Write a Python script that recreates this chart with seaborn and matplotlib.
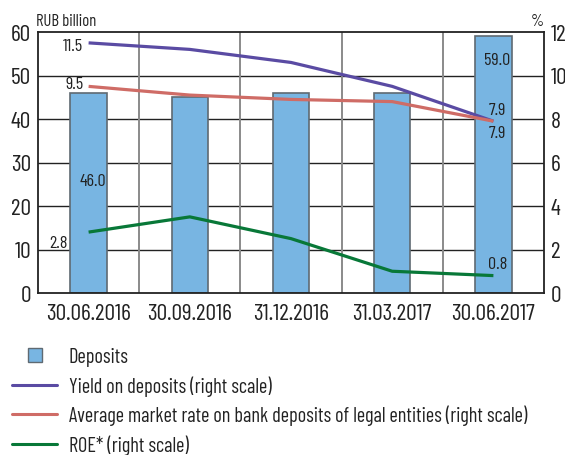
import matplotlib
matplotlib.use("Agg")
import matplotlib.pyplot as plt
from matplotlib import font_manager
from matplotlib.lines import Line2D
import seaborn as sns
import pandas as pd
import numpy as np

dates = ["30.06.2016", "30.09.2016", "31.12.2016", "31.03.2017", "30.06.2017"]
deposits = [46.0, 45.0, 46.0, 46.0, 59.0]
yield_on_deposits = [11.5, 11.2, 10.6, 9.5, 7.9]
market_rate = [9.5, 9.1, 8.9, 8.8, 7.9]
roe = [2.8, 3.5, 2.5, 1.0, 0.8]

left_ticks = [0, 10, 20, 30, 40, 50, 60]
right_ticks = [0, 2, 4, 6, 8, 10, 12]

sns.set_theme(style="white")
names = {f.name for f in font_manager.fontManager.ttflist}
family = next((n for n in ["Barlow Condensed", "Archivo Narrow", "Asap Condensed",
                           "Liberation Sans Narrow"] if n in names), "DejaVu Sans")
plt.rcParams["font.family"] = [family, "DejaVu Sans"]

BAR = "#78b5e2"
BAR_EDGE = "#5f6a72"
PURPLE = "#5a4ba3"
RED = "#cf6c66"
GREEN = "#087838"
INK = "#222222"
PT = 0.72  # points per pixel at 100 dpi

df = pd.DataFrame({"date": dates, "deposits": deposits})

fig = plt.figure(figsize=(5.65, 4.56), dpi=100)
ax = fig.add_axes([38 / 565, 1 - 294 / 456, 506 / 565, 261 / 456])

sns.barplot(data=df, x="date", y="deposits", ax=ax, color=BAR, width=0.36,
            edgecolor=BAR_EDGE, linewidth=1.2, saturation=1, zorder=3)
ax.set_xlim(-0.5, 4.5)
ax.set_ylim(0, 60)
ax.set_yticks(left_ticks)
ax.set_xlabel("")
ax.set_ylabel("")
ax.tick_params(axis="both", labelsize=17, colors=INK, length=0)
ax.tick_params(axis="y", pad=5)
ax.tick_params(axis="x", pad=7)

# horizontal grid behind bars, vertical grid at category boundaries
for y in left_ticks[1:-1]:
    ax.axhline(y, color=INK, lw=1.0, zorder=1)
for xb in [0.5, 1.5, 2.5, 3.5]:
    ax.axvline(xb, color="#8a8a8a", lw=1.4, zorder=1)
for s in ax.spines.values():
    s.set_color(INK)
    s.set_linewidth(1.3)
    s.set_zorder(5)

ax2 = ax.twinx()
ax2.set_ylim(0, 12)
ax2.set_yticks(right_ticks)
ax2.tick_params(axis="y", labelsize=17, colors=INK, length=0, pad=5)
for s in ax2.spines.values():
    s.set_visible(False)
x = np.arange(len(dates))
for series, col in [(yield_on_deposits, PURPLE), (market_rate, RED), (roe, GREEN)]:
    sns.lineplot(x=x, y=series, ax=ax2, color=col, lw=2.3, zorder=4,
                 solid_capstyle="butt")
ax2.set_ylabel("")
ax2.set_xlim(-0.5, 4.5)

lbl = dict(fontsize=13, color=INK, zorder=6, textcoords="offset points")


def note(axis, text, xy, dx, dy, ha="center"):
    axis.annotate(text, xy, xytext=(dx * PT, dy * PT), ha=ha, va="center", **lbl)


note(ax2, f"{yield_on_deposits[0]:.1f}", (0, yield_on_deposits[0]), -6, -3, ha="right")
note(ax2, f"{market_rate[0]:.1f}", (0, market_rate[0]), -5, 3, ha="right")
note(ax2, f"{roe[0]:.1f}", (0, roe[0]), -21, -10, ha="right")
note(ax2, f"{yield_on_deposits[4]:.1f}", (4, yield_on_deposits[4]), 4, 12)
note(ax2, f"{market_rate[4]:.1f}", (4, market_rate[4]), 4, -11)
note(ax2, f"{roe[4]:.1f}", (4, roe[4]), 4, 12)
note(ax, f"{deposits[0]:.1f}", (0, deposits[0]), 4, -88)
note(ax, f"{deposits[4]:.1f}", (4, deposits[4]), 4, -23)

fig.text(36 / 565, 1 - 21 / 456, "RUB billion", fontsize=12, color=INK,
         ha="left", va="center")
fig.text(544 / 565, 1 - 21 / 456, "%", fontsize=12, color=INK,
         ha="right", va="center")

handles = [
    Line2D([], [], ls="none", marker="s", markersize=10.5, markerfacecolor=BAR,
           markeredgecolor=BAR_EDGE, markeredgewidth=1.0),
    Line2D([], [], color=PURPLE, lw=2.2),
    Line2D([], [], color=RED, lw=2.2),
    Line2D([], [], color=GREEN, lw=2.2),
]
labels = [
    "Deposits",
    "Yield on deposits (right scale)",
    "Average market rate on bank deposits of legal entities (right scale)",
    "ROE* (right scale)",
]
fs = 14.6
em = fs / PT
fig.legend(handles, labels, loc="upper left", bbox_to_anchor=(12 / 565, 1 - 348 / 456),
           frameon=False, fontsize=fs, handlelength=45 / em,
           handletextpad=12 / em, labelspacing=0.45, borderaxespad=0,
           borderpad=0, labelcolor=INK)

fig.savefig("out.png", dpi=100)
